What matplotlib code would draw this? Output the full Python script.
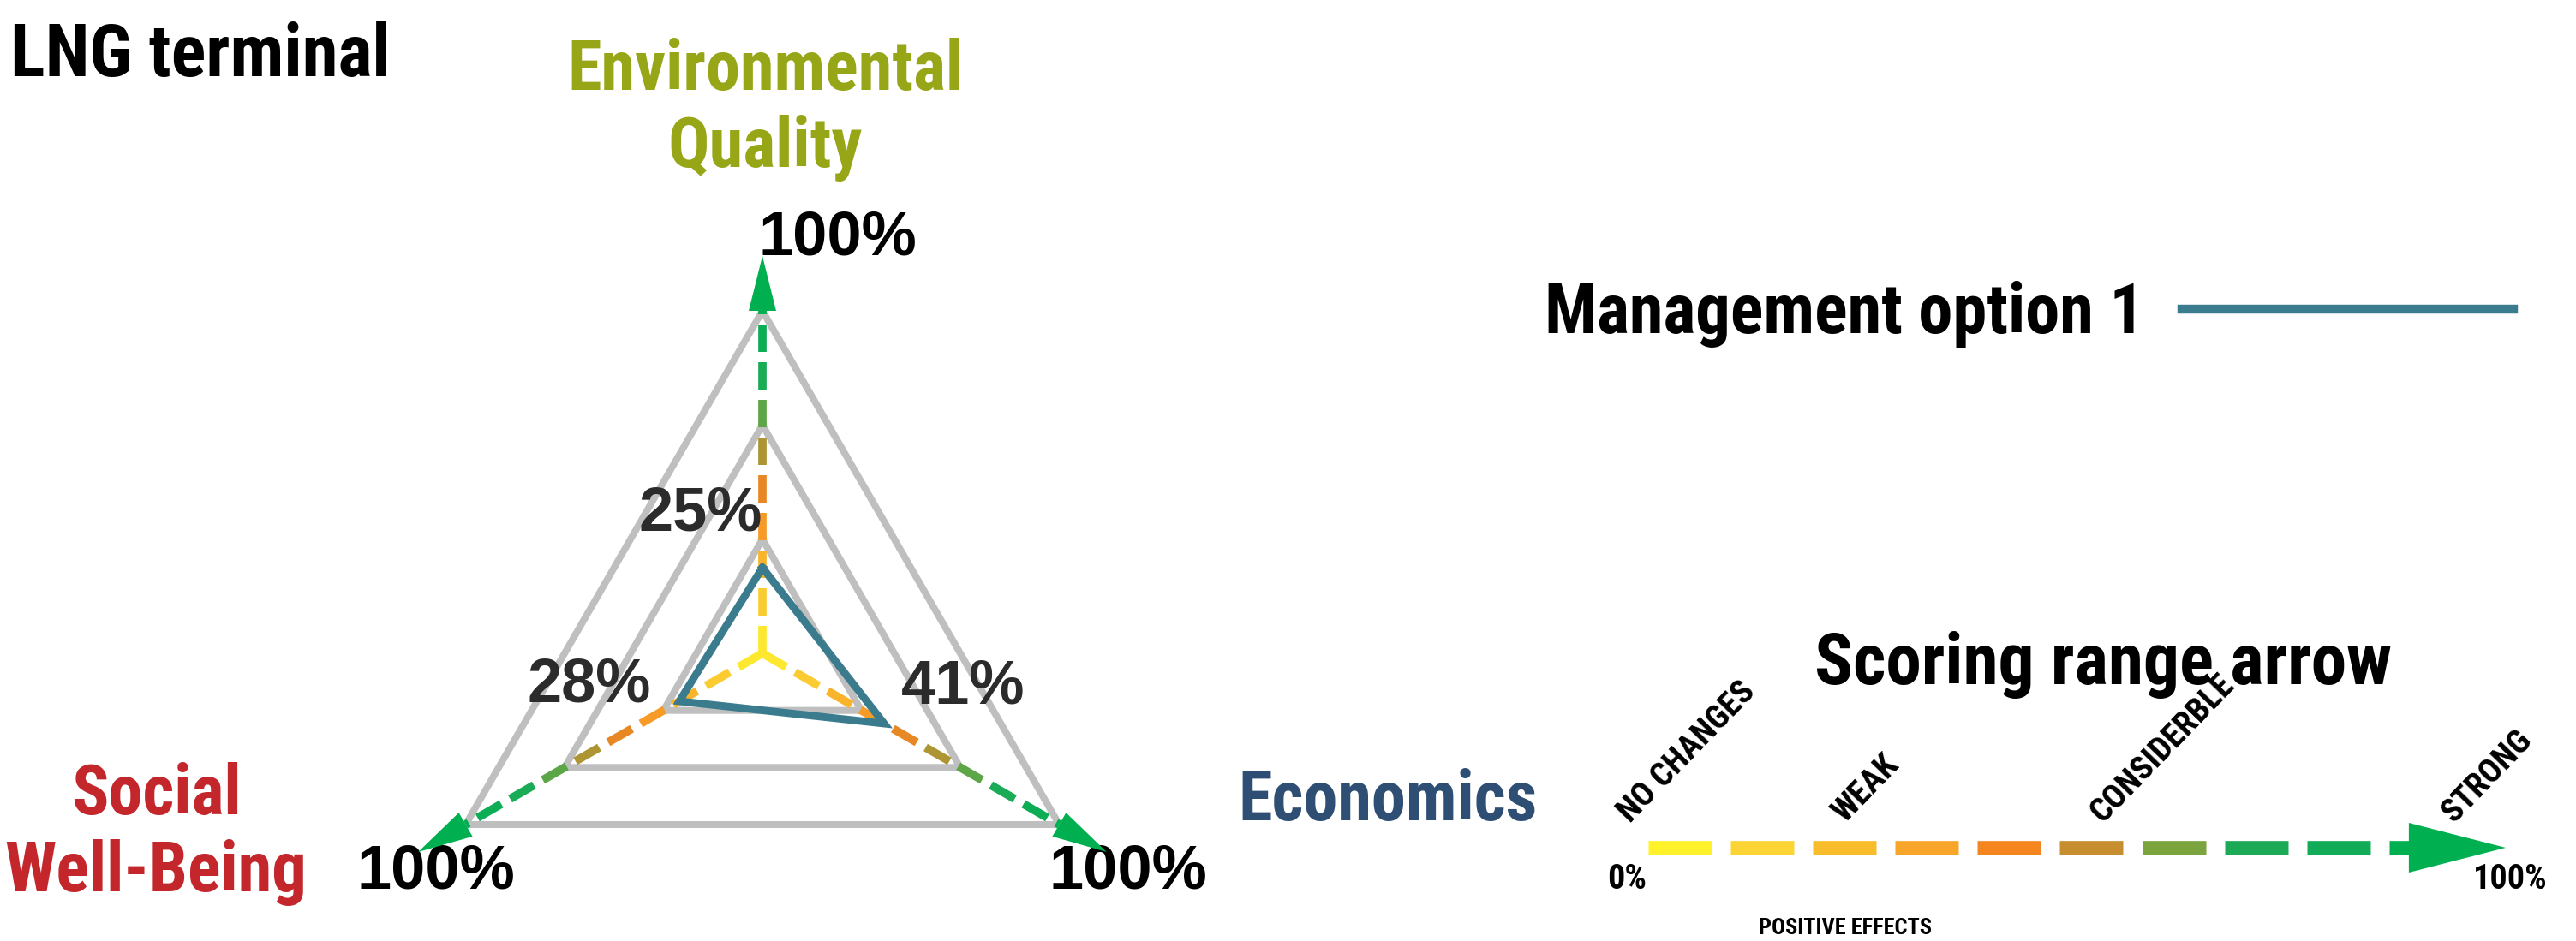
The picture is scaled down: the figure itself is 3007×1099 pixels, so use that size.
import numpy as np
import matplotlib
matplotlib.use("Agg")
import matplotlib.pyplot as plt
from matplotlib import font_manager
from matplotlib.colors import LinearSegmentedColormap

# ---- data ----
axis_names = ["Environmental\nQuality", "Economics", "Social\nWell-Being"]
axis_angles = [90, -30, 210]          # degrees, direction of each spoke
axis_colors = ["#97A616", "#2E4E74", "#C3262B"]
option_name = "Management option 1"
option_values = [25, 41, 28]          # % per axis
grid_levels = [1 / 3, 2 / 3, 1.0]
scale_labels = ["NO CHANGES", "WEAK", "CONSIDERBLE", "STRONG"]
scale_label_pos = [0, 25, 55, 96]     # % along the scoring arrow
ramp_colors = ["#FFF22B", "#FCD535", "#F9BC2A", "#F8A52C", "#F5861F",
               "#C68E2E", "#7BA43F", "#1DAA57", "#12AC58", "#00B050"]

# condensed font close to Arial Narrow Bold
installed = {f.name for f in font_manager.fontManager.ttflist}
narrow = next((n for n in ["Liberation Sans Narrow", "Arial Narrow", "Roboto Condensed",
                           "Archivo Narrow", "PT Sans Narrow", "Fira Sans Condensed"]
               if n in installed), "DejaVu Sans")
NARROW = [narrow, "DejaVu Sans"]
WIDE = ["Liberation Sans", "DejaVu Sans"]
plt.rcParams["font.family"] = NARROW
plt.rcParams["font.weight"] = "bold"

BLUE = "#3A7C8E"
GREY = "#BFBFBF"
GREEN = "#00B050"
ramp = LinearSegmentedColormap.from_list("ramp", ramp_colors)

fig = plt.figure(figsize=(30.07, 10.99), dpi=100)

# radar axes: 1 data unit = 400 px, centre at (890, 763) px from top-left
unit, cx, cy = 400.0, 890.0, 763.0
ax = fig.add_axes([0, 0, 1, 1])
ax.set_xlim(-cx / unit, (3007 - cx) / unit)
ax.set_ylim(-(1099 - cy) / unit, cy / unit)
ax.axis("off")

th = np.deg2rad(axis_angles)
ux, uy = np.cos(th), np.sin(th)

# grid triangles
for lvl in grid_levels:
    gx = np.append(ux * lvl, ux[0] * lvl)
    gy = np.append(uy * lvl, uy[0] * lvl)
    ax.plot(gx, gy, color=GREY, lw=5.8, solid_joinstyle="miter", zorder=2)

# dashed gradient spokes with arrow heads
dash, gap = 0.08, 0.03
starts = np.arange(0, 1.0, dash + gap)
for x, y in zip(ux, uy):
    for s in starts:
        e = min(s + dash, 1.0)
        ax.plot([x * s, x * e], [y * s, y * e], color=ramp((s + e) / 2),
                lw=7, solid_capstyle="butt", zorder=3)
    hl, hw, base = 0.16, 0.04, 1.0
    px, py = -y, x
    ax.fill([x * base + px * hw, x * (base + hl), x * base - px * hw],
            [y * base + py * hw, y * (base + hl), y * base - py * hw],
            color=GREEN, lw=0, zorder=4)

# option polygon
vals = np.array(option_values) / 100
ox = np.append(ux * vals, ux[0] * vals[0])
oy = np.append(uy * vals, uy[0] * vals[0])
ax.plot(ox, oy, color=BLUE, lw=6.4, solid_joinstyle="miter", zorder=5,
        label=option_name)

# value labels
offsets = [(-72, 62), (92, 42), (-105, 18)]
for x, y, v, off in zip(ux * vals, uy * vals, option_values, offsets):
    ax.annotate(f"{v}%", (x, y), xytext=off, textcoords="offset pixels",
                ha="center", va="center", fontsize=52, color="#2B2B2B",
                family=WIDE)

# 100% labels at the ends
end_offsets = [(88, 85), (80, -55), (-35, -55)]
for x, y, off in zip(ux, uy, end_offsets):
    ax.annotate("100%", (x, y), xytext=off, textcoords="offset pixels",
                ha="center", va="center", fontsize=52, color="black",
                family=WIDE)

# axis names
name_pos = [(893, 128), (1620, 936), (182, 974)]
for name, col, (nx, ny) in zip(axis_names, axis_colors, name_pos):
    fig.text(nx / 3007, 1 - ny / 1099, name, ha="center", va="center",
             fontsize=58, color=col, linespacing=1.2)

fig.text(12 / 3007, 1 - 65 / 1099, "LNG terminal", ha="left", va="center",
         fontsize=61, color="black")

leg = ax.legend(loc="center right", bbox_to_anchor=(2934 / 3007, 1 - 367 / 1099),
                bbox_transform=fig.transFigure, frameon=False, markerfirst=False,
                handlelength=4.8, handletextpad=0.55, borderpad=0, borderaxespad=0,
                prop={"family": NARROW, "weight": "bold", "size": 58})
leg.get_lines()[0].set_linewidth(7.5)

# scoring range arrow
ax2 = fig.add_axes([1924 / 3007, 0, 1001 / 3007, 1])
ax2.set_xlim(0, 100)
ax2.set_ylim(0, 1)
ax2.axis("off")
ya = 1 - 990 / 1099
period = 9.6
for i, c in enumerate(ramp_colors):
    s = i * period
    e = s + period * 0.77 if i < len(ramp_colors) - 1 else 89.5
    ax2.plot([s, e], [ya, ya], color=c, lw=12, solid_capstyle="butt")
hh = 29 / 1099
ax2.fill([88.7, 88.7, 100], [ya - hh, ya + hh, ya], color=GREEN, lw=0)

for lbl, p in zip(scale_labels, scale_label_pos):
    ax2.text(p - 1.5, ya + 0.02, lbl, rotation=46, rotation_mode="anchor",
             ha="left", va="bottom", fontsize=28)
ax2.text(-2.5, 1 - 1027 / 1099, "0%", ha="center", va="center", fontsize=29)
ax2.text(100.5, 1 - 1027 / 1099, "100%", ha="center", va="center", fontsize=29)
ax2.text(23, 1 - 1084 / 1099, "POSITIVE EFFECTS", ha="center", va="center",
         fontsize=19)
ax2.text(53, 1 - 777 / 1099, "Scoring range arrow", ha="center", va="center",
         fontsize=60)

fig.savefig("out.png", dpi=100)
